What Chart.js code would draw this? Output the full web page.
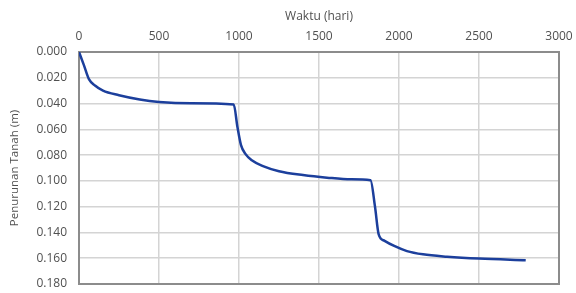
<!DOCTYPE html>
<html>
<head>
<meta charset="utf-8">
<script src="https://cdn.jsdelivr.net/npm/chart.js@4"></script>
<style>
  html, body { margin: 0; padding: 0; background: #fff; }
  #wrap { width: 576px; height: 293px; }
</style>
</head>
<body>
<div id="wrap"><canvas id="settlement-chart" width="576" height="293"></canvas></div>
<script>
// time (days) vs settlement (m)
const days = [0, 30, 62, 100, 150, 250, 380, 500, 700, 967, 990, 1012, 1040, 1080, 1150, 1250, 1400, 1550, 1700, 1822, 1850, 1873, 1910, 1970, 2050, 2150, 2300, 2500, 2792];
const settlement = [0.000, 0.010, 0.021, 0.026, 0.030, 0.0335, 0.0368, 0.0387, 0.0398, 0.0407, 0.058, 0.072, 0.079, 0.084, 0.0885, 0.0925, 0.0955, 0.0975, 0.0988, 0.0995, 0.120, 0.1415, 0.1465, 0.1505, 0.1545, 0.157, 0.1588, 0.1603, 0.1615];
const xTicks = [0, 500, 1000, 1500, 2000, 2500, 3000];
const yTicks = [0, 0.02, 0.04, 0.06, 0.08, 0.10, 0.12, 0.14, 0.16, 0.18];

const points = days.map((d, i) => ({ x: d, y: settlement[i] }));
const textColor = '#505050';
const font = { family: 'Open Sans', size: 12 };

// grey frame round the plot area
const plotFrame = {
    id: 'plotFrame',
    beforeDatasetsDraw(chart) {
        const { ctx, chartArea: a } = chart;
        ctx.save();
        ctx.strokeStyle = '#8c8c8c';
        ctx.lineWidth = 2;
        ctx.strokeRect(a.left, a.top, a.right - a.left, a.bottom - a.top);
        ctx.restore();
    }
};

new Chart(document.getElementById('settlement-chart'), {
    type: 'line',
    data: {
        datasets: [{
            data: points,
            borderColor: '#1c3f9c',
            borderWidth: 2.5,
            pointRadius: 0,
            fill: false,
            cubicInterpolationMode: 'monotone'
        }]
    },
    options: {
        responsive: false,
        animation: false,
        layout: { padding: 0 },
        plugins: { legend: { display: false }, tooltip: { enabled: false } },
        scales: {
            x: {
                type: 'linear',
                position: 'top',
                min: 0,
                max: 3000,
                afterBuildTicks: s => { s.ticks = xTicks.map(v => ({ value: v })); },
                afterFit: s => { s.height = 52; s.paddingLeft = 0; s.paddingRight = 17; },
                ticks: { color: textColor, font: font, padding: 8, maxRotation: 0, callback: v => String(v) },
                grid: { color: '#d4d4d4', lineWidth: 1.5, drawTicks: false },
                border: { display: false },
                title: { display: true, text: 'Waktu (hari)', color: textColor, font: { family: 'Open Sans', size: 12 }, padding: { top: 9, bottom: 0 } }
            },
            y: {
                type: 'linear',
                reverse: true,
                min: 0,
                max: 0.18,
                afterBuildTicks: s => { s.ticks = yTicks.map(v => ({ value: v })); },
                afterFit: s => { s.width = 79; s.paddingTop = 0; s.paddingBottom = 9; },
                ticks: { color: textColor, font: font, padding: 12, callback: v => v.toFixed(3) },
                grid: { color: '#d4d4d4', lineWidth: 1.5, drawTicks: false },
                border: { display: false },
                title: { display: true, text: 'Penurunan Tanah (m)', color: textColor, font: { family: 'Open Sans', size: 11.5 }, padding: { top: 8, bottom: 0 } }
            }
        }
    },
    plugins: [plotFrame]
});
</script>
</body>
</html>
